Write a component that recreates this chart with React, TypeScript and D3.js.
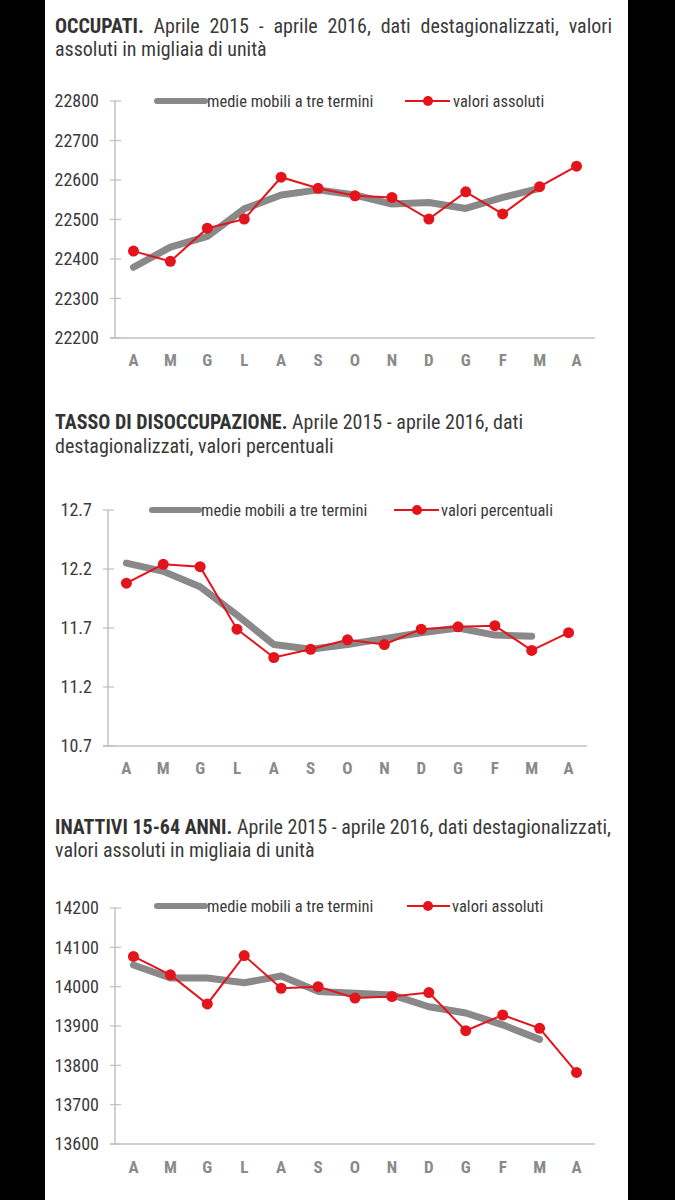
import React, { useEffect, useRef } from "react";
import * as d3 from "d3";

const months = ["A", "M", "G", "L", "A", "S", "O", "N", "D", "G", "F", "M", "A"];

const occupatiValori = [22420, 22394, 22478, 22501, 22607, 22579, 22560, 22556, 22501, 22570, 22514, 22583, 22635];
const occupatiMedie = [22379, 22430, 22457, 22527, 22562, 22575, 22562, 22539, 22543, 22528, 22556, 22579];
const occupatiTicks = [22200, 22300, 22400, 22500, 22600, 22700, 22800];

const disoccValori = [12.08, 12.24, 12.22, 11.69, 11.45, 11.52, 11.6, 11.56, 11.69, 11.71, 11.72, 11.51, 11.66];
const disoccMedie = [12.25, 12.18, 12.05, 11.81, 11.56, 11.52, 11.56, 11.61, 11.66, 11.7, 11.64, 11.63];
const disoccTicks = [10.7, 11.2, 11.7, 12.2, 12.7];

const inattiviValori = [14077, 14030, 13956, 14079, 13996, 14000, 13971, 13975, 13985, 13888, 13928, 13894, 13782];
const inattiviMedie = [14055, 14022, 14022, 14010, 14027, 13988, 13983, 13979, 13949, 13933, 13903, 13866];
const inattiviTicks = [13600, 13700, 13800, 13900, 14000, 14100, 14200];

const legendMedie = "medie mobili a tre termini";

const charts = [
  {
    titleBold: "OCCUPATI.",
    titleRest: "Aprile 2015 - aprile 2016, dati destagionalizzati, valori",
    titleLine2: "assoluti in migliaia di unità",
    valori: occupatiValori,
    medie: occupatiMedie,
    ticks: occupatiTicks,
    fmt: (d: number) => String(d),
    legendValori: "valori assoluti",
  },
  {
    titleBold: "TASSO DI DISOCCUPAZIONE.",
    titleRest: "Aprile 2015 - aprile 2016, dati",
    titleLine2: "destagionalizzati, valori percentuali",
    valori: disoccValori,
    medie: disoccMedie,
    ticks: disoccTicks,
    fmt: (d: number) => d.toFixed(1),
    legendValori: "valori percentuali",
  },
  {
    titleBold: "INATTIVI 15-64 ANNI.",
    titleRest: "Aprile 2015 - aprile 2016, dati destagionalizzati,",
    titleLine2: "valori assoluti in migliaia di unità",
    valori: inattiviValori,
    medie: inattiviMedie,
    ticks: inattiviTicks,
    fmt: (d: number) => String(d),
    legendValori: "valori assoluti",
  },
];

const layouts = [
  { titleY: [33, 56], justifyTo: 612, x: [115, 595], y: [338, 101], legY: 101, gray: [157, 205], grayText: 207, red: [405, 450], dot: 428, redText: 453, xLabY: 366 },
  { titleY: [429, 453], justifyTo: 0, x: [108, 587], y: [746, 510], legY: 510, gray: [152, 199], grayText: 201, red: [394, 439], dot: 417, redText: 441, xLabY: 774 },
  { titleY: [834, 857], justifyTo: 0, x: [115, 595], y: [1144, 908], legY: 906, gray: [157, 205], grayText: 207, red: [407, 450], dot: 428, redText: 452, xLabY: 1173 },
];

const FONT = "'Liberation Sans Narrow','Arial Narrow','Roboto Condensed','DejaVu Sans Condensed',sans-serif";
const GRAY = "#898989";
const RED = "#e3141c";
const AXIS = "#c0c0c0";
const TEXT = "#3a3a3a";

export default function App() {
  const ref = useRef<SVGSVGElement>(null);

  useEffect(() => {
    const svg = d3.select(ref.current);
    svg.selectAll("*").remove();
    svg.append("rect").attr("width", 675).attr("height", 1200).attr("fill", "#000");
    svg.append("rect").attr("x", 45).attr("width", 583).attr("height", 1200).attr("fill", "#fff");

    const makeTitle = (parent: any, c: any, yPos: number, size: number) => {
      const t = parent
        .append("text")
        .attr("x", 55)
        .attr("y", yPos)
        .attr("font-family", FONT)
        .attr("font-size", size)
        .attr("fill", TEXT);
      t.append("tspan").attr("font-weight", "bold").attr("fill", "#333").text(c.titleBold);
      t.append("tspan").text(" " + c.titleRest);
      return t;
    };

    // calibrate title font size on the third title, whose first line ends at x=612
    const probe = makeTitle(svg, charts[2], -100, 17);
    const pw = (probe.node() as SVGTextElement).getComputedTextLength();
    probe.remove();
    const titleSize = Math.min(20, 17 * (612 - 55) / pw);

    charts.forEach((c, i) => {
      const L = layouts[i];
      const g = svg.append("g").attr("font-family", FONT);

      const t1 = makeTitle(g, c, L.titleY[0], titleSize);
      if (L.justifyTo) {
        const w = (t1.node() as SVGTextElement).getComputedTextLength();
        const full = c.titleBold + " " + c.titleRest;
        const spaces = full.split(" ").length - 1;
        t1.attr("word-spacing", Math.max(0, (L.justifyTo - 55 - w) / spaces));
      }
      g.append("text")
        .attr("x", 55)
        .attr("y", L.titleY[1])
        .attr("font-size", titleSize)
        .attr("fill", TEXT)
        .text(c.titleLine2);

      const x = d3
        .scalePoint<number>()
        .domain(d3.range(months.length))
        .range([L.x[0], L.x[1]])
        .padding(0.5);
      const yDom = d3.extent(c.ticks) as [number, number];
      const y = d3.scaleLinear().domain(yDom).range([L.y[0], L.y[1]]);

      // axes
      g.append("line")
        .attr("x1", L.x[0])
        .attr("x2", L.x[0])
        .attr("y1", y(yDom[1]))
        .attr("y2", y(yDom[0]))
        .attr("stroke", AXIS)
        .attr("stroke-width", 1.5);
      g.append("line")
        .attr("x1", L.x[0] - 5)
        .attr("x2", L.x[1])
        .attr("y1", y(yDom[0]))
        .attr("y2", y(yDom[0]))
        .attr("stroke", AXIS)
        .attr("stroke-width", 1.5);
      g.selectAll(".tk")
        .data(c.ticks)
        .enter()
        .append("line")
        .attr("x1", L.x[0] - 5)
        .attr("x2", L.x[0] + 6)
        .attr("y1", (d: number) => y(d))
        .attr("y2", (d: number) => y(d))
        .attr("stroke", AXIS)
        .attr("stroke-width", 1.2);
      g.selectAll(".tl")
        .data(c.ticks)
        .enter()
        .append("text")
        .attr("x", L.x[0] - 16)
        .attr("y", (d: number) => y(d))
        .attr("dy", "0.36em")
        .attr("text-anchor", "end")
        .attr("font-size", 18)
        .attr("fill", TEXT)
        .text((d: number) => c.fmt(d));
      g.selectAll(".xl")
        .data(months)
        .enter()
        .append("text")
        .attr("x", (_d: string, j: number) => x(j) as number)
        .attr("y", L.xLabY)
        .attr("text-anchor", "middle")
        .attr("font-size", 17)
        .attr("font-weight", "bold")
        .attr("fill", "#8a8a8a")
        .text((d: string) => d);

      // moving average
      const line = d3
        .line<number>()
        .x((_d, j) => x(j) as number)
        .y((d) => y(d));
      g.append("path")
        .attr("d", line(c.medie))
        .attr("fill", "none")
        .attr("stroke", GRAY)
        .attr("stroke-width", 7)
        .attr("stroke-linecap", "round")
        .attr("stroke-linejoin", "round");
      g.append("path")
        .attr("d", line(c.valori))
        .attr("fill", "none")
        .attr("stroke", RED)
        .attr("stroke-width", 2);
      g.selectAll(".pt")
        .data(c.valori)
        .enter()
        .append("circle")
        .attr("cx", (_d: number, j: number) => x(j) as number)
        .attr("cy", (d: number) => y(d))
        .attr("r", 5.5)
        .attr("fill", RED);

      // legend
      g.append("line")
        .attr("x1", L.gray[0])
        .attr("x2", L.gray[1])
        .attr("y1", L.legY)
        .attr("y2", L.legY)
        .attr("stroke", GRAY)
        .attr("stroke-width", 6)
        .attr("stroke-linecap", "round");
      g.append("text")
        .attr("x", L.grayText)
        .attr("y", L.legY)
        .attr("dy", "0.36em")
        .attr("font-size", 16.5)
        .attr("fill", TEXT)
        .text(legendMedie);
      g.append("line")
        .attr("x1", L.red[0])
        .attr("x2", L.red[1])
        .attr("y1", L.legY)
        .attr("y2", L.legY)
        .attr("stroke", RED)
        .attr("stroke-width", 2);
      g.append("circle").attr("cx", L.dot).attr("cy", L.legY).attr("r", 5).attr("fill", RED);
      g.append("text")
        .attr("x", L.redText)
        .attr("y", L.legY)
        .attr("dy", "0.36em")
        .attr("font-size", 16.5)
        .attr("fill", TEXT)
        .text(c.legendValori);
    });
  }, []);

  return (
    <svg
      ref={ref}
      width={675}
      height={1200}
      style={{ position: "absolute", left: 0, top: 0, display: "block" }}
    />
  );
}
